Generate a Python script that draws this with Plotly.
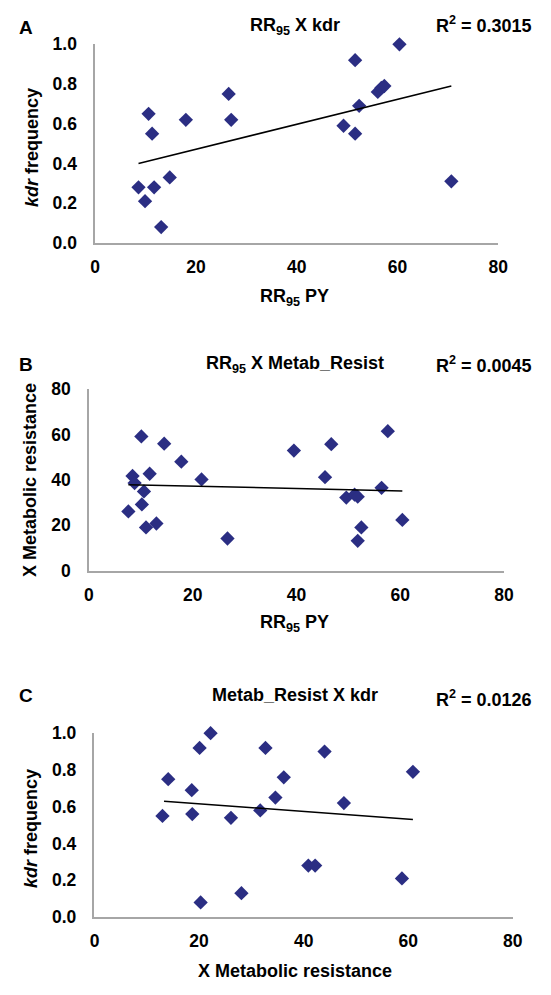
import plotly.graph_objects as go

# ---------------- data ----------------
a_x = [8.6, 9.9, 10.6, 11.3, 11.7, 13.1, 14.8, 18.0, 26.5, 27.0, 49.3, 51.6, 51.6, 52.4, 56.1, 56.8, 57.4, 60.4, 70.7]
a_y = [0.28, 0.21, 0.65, 0.55, 0.28, 0.08, 0.33, 0.62, 0.75, 0.62, 0.59, 0.92, 0.55, 0.69, 0.76, 0.78, 0.79, 1.00, 0.31]
a_trend_x = [8.6, 70.7]
a_trend_y = [0.40, 0.79]

b_x = [7.6, 8.4, 8.8, 10.1, 10.2, 10.6, 11.0, 11.7, 13.0, 14.5, 17.8, 21.7, 26.7, 39.5, 45.5, 46.7, 49.6, 51.2, 51.8, 51.8, 52.5, 56.4, 57.6, 60.4]
b_y = [26.1, 41.7, 38.6, 59.1, 29.2, 34.9, 19.1, 42.7, 20.8, 55.9, 48.0, 40.2, 14.2, 52.9, 41.2, 55.7, 32.2, 33.5, 32.6, 13.2, 19.1, 36.5, 61.4, 22.4]
b_trend_x = [7.6, 60.4]
b_trend_y = [37.9, 35.1]

c_x = [13.0, 14.1, 18.6, 18.7, 20.1, 20.3, 22.2, 26.1, 28.1, 31.7, 32.7, 34.6, 36.2, 40.9, 42.2, 44.0, 47.7, 58.8, 60.9]
c_y = [0.55, 0.75, 0.69, 0.56, 0.92, 0.08, 1.00, 0.54, 0.13, 0.58, 0.92, 0.65, 0.76, 0.28, 0.28, 0.90, 0.62, 0.21, 0.79]
c_trend_x = [13.3, 60.9]
c_trend_y = [0.63, 0.53]

x_ticks = [0, 20, 40, 60, 80]
y_ticks_freq = [0.0, 0.2, 0.4, 0.6, 0.8, 1.0]
y_ticks_meta = [0, 20, 40, 60, 80]

panel_letters = ["A", "B", "C"]
panel_titles = ["RR<sub>95</sub> X kdr", "RR<sub>95</sub> X Metab_Resist", "Metab_Resist X kdr"]
r2_labels = ["R<sup>2</sup> = 0.3015", "R<sup>2</sup> = 0.0045", "R<sup>2</sup> = 0.0126"]
x_titles = ["RR<sub>95</sub> PY", "RR<sub>95</sub> PY", "X Metabolic resistance"]
y_titles = ["<i>kdr</i> frequency", "X Metabolic resistance", "<i>kdr</i> frequency"]

# ---------------- layout helpers ----------------
W, H = 551, 995
FONT = "Liberation Sans, Arial, sans-serif"
MARK = "#2B2E83"
AXC = "#A6A6A6"


def px(x):
    return x / W


def py(y):
    return 1 - y / H


fig = go.Figure()

panels = [
    dict(x=a_x, y=a_y, tx=a_trend_x, ty=a_trend_y, xd=(92.7, 507), yd=(35, 237.7),
         yr=[0, 1.0], yt=y_ticks_freq, fmt=".1f",
         title_y=17, letter_y=18, r2_y=15, xt_y=293, yt_x=27.5, yt_cy=140),
    dict(x=b_x, y=b_y, tx=b_trend_x, ty=b_trend_y, xd=(86.3, 513), yd=(386.7, 572.3),
         yr=[0, 80], yt=y_ticks_meta, fmt="d",
         title_y=362, letter_y=362, r2_y=362, xt_y=626, yt_x=26.4, yt_cy=480),
    dict(x=c_x, y=c_y, tx=c_trend_x, ty=c_trend_y, xd=(92, 522), yd=(738, 925.7),
         yr=[0, 1.0], yt=y_ticks_freq, fmt=".1f",
         title_y=699, letter_y=700, r2_y=703, xt_y=981, yt_x=26.5, yt_cy=835),
]

annotations = []
for i, p in enumerate(panels):
    n = "" if i == 0 else str(i + 1)
    xa, ya = "x" + n, "y" + n
    fig.add_trace(go.Scatter(
        x=p["x"], y=p["y"], mode="markers", xaxis=xa, yaxis=ya,
        marker=dict(symbol="diamond", size=11, color=MARK, line=dict(width=0)),
        cliponaxis=False, showlegend=False, hoverinfo="skip"))
    fig.add_trace(go.Scatter(
        x=p["tx"], y=p["ty"], mode="lines", xaxis=xa, yaxis=ya,
        line=dict(color="black", width=1.5), showlegend=False, hoverinfo="skip"))

    axis_common = dict(showgrid=False, zeroline=False, showline=True, linecolor=AXC, linewidth=1.5,
                       ticks="outside", tickcolor="rgba(0,0,0,0)", fixedrange=True,
                       tickfont=dict(family=FONT, size=17.5, color="black", weight="bold"))
    fig.update_layout(**{
        "xaxis" + n: dict(domain=[px(p["xd"][0]), px(p["xd"][1])], range=[0, 80],
                          tickvals=x_ticks, ticklen=7, anchor=ya, **axis_common),
        "yaxis" + n: dict(domain=[py(p["yd"][1]), py(p["yd"][0])], range=p["yr"],
                          tickvals=p["yt"], tickformat=p["fmt"], ticklen=13, anchor=xa, **axis_common),
    })

    annotations += [
        dict(text="<b>" + panel_letters[i] + "</b>", x=px(21.7), y=py(p["letter_y"]),
             font=dict(size=19)),
        dict(text="<b>" + panel_titles[i] + "</b>", x=px(298.5), y=py(p["title_y"]),
             font=dict(size=18)),
        dict(text="<b>" + r2_labels[i] + "</b>", x=px(544), y=py(p["r2_y"]), xanchor="right",
             font=dict(size=18)),
        dict(text="<b>" + x_titles[i] + "</b>", x=px(298), y=py(p["xt_y"]),
             font=dict(size=18)),
        dict(text="<b>" + y_titles[i] + "</b>", x=px(p["yt_x"]), y=py(p["yt_cy"]), textangle=-90,
             font=dict(size=18)),
    ]

for a in annotations:
    a.update(xref="paper", yref="paper", showarrow=False, xanchor=a.get("xanchor", "center"),
             yanchor="middle")
    a["font"].update(family=FONT, color="black")

fig.update_layout(
    width=W, height=H, margin=dict(l=0, r=0, t=0, b=0),
    paper_bgcolor="white", plot_bgcolor="white",
    annotations=annotations, hovermode=False,
)

fig.write_html("out.html", config={"displayModeBar": False},
               post_script="document.body.style.margin='0px';")
